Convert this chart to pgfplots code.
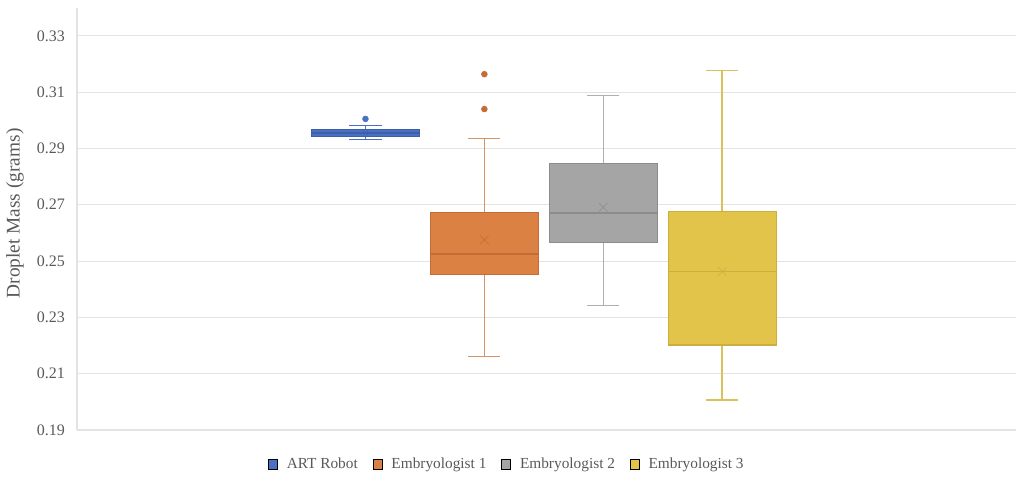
\documentclass[border=0pt]{standalone}
\usepackage{fontspec}
\setmainfont{Liberation Serif}
\usepackage{pgfplots}
\pgfplotsset{compat=1.18}
\usepgfplotslibrary{statistics}
\definecolor{txtgray}{HTML}{595959}
\definecolor{gridgray}{HTML}{E3E3E3}
\definecolor{artfill}{HTML}{4A70C4}
\definecolor{artdark}{HTML}{3D5FA8}
\definecolor{eofill}{HTML}{DB8143}
\definecolor{eodark}{HTML}{C46C35}
\definecolor{eowh}{HTML}{D4946A}
\definecolor{etfill}{HTML}{A5A5A5}
\definecolor{etdark}{HTML}{8C8C8C}
\definecolor{etwh}{HTML}{AFAFAF}
\definecolor{ehfill}{HTML}{E3C44B}
\definecolor{ehdark}{HTML}{CDAE3C}
\definecolor{ehwh}{HTML}{D9C25E}
\begin{document}
\begin{tikzpicture}
\useasboundingbox (-57.75pt,-41.25pt) rectangle (710.25pt,322.5pt);
\begin{axis}[
  at={(0pt,0pt)}, anchor=south west,
  scale only axis, width=704.25pt, height=316.7pt,
  xmin=-1.426, xmax=6.471, ymin=0.19, ymax=0.34,
  xtick=\empty,
  ytick={0.19,0.21,0.23,0.25,0.27,0.29,0.31,0.33},
  yticklabel style={/pgf/number format/fixed, /pgf/number format/fixed zerofill, /pgf/number format/precision=2, /pgf/number format/assume math mode=true,
    font=\fontsize{12}{14}\selectfont, text=txtgray, xshift=-5.5pt},
  major tick length=0pt,
  ymajorgrids, grid style={gridgray, line width=0.8pt},
  separate axis lines,
  axis x line*=bottom, axis y line*=left,
  x axis line style={draw=none},
  y axis line style={gridgray, line width=0.8pt},
  ylabel={Droplet Mass (grams)},
  every axis y label/.style={at={(axis description cs:-0.066,0.513)}, rotate=90, anchor=center, font=\fontsize{14.5}{16}\selectfont, text=txtgray},
  boxplot/draw direction=y,
  boxplot/box extend=0.906,
  boxplot/whisker extend=0.27,
  legend columns=4,
  legend style={at={(0.458,-0.081)}, anchor=center, draw=none, fill=none,
    font=\fontsize{11.5}{13}\selectfont, text=txtgray,
    /tikz/every odd column/.append style={column sep=5pt},
    /tikz/every even column/.append style={column sep=9pt}},
  legend image code/.code={\fill[#1] (0pt,-3.8pt) rectangle (6.8pt,3.8pt);},
]
% ART Robot
\addplot[forget plot, color=artdark, boxplot prepared={draw position=1,
    lower whisker=0.2931, lower quartile=0.2942, median=0.2955,
    upper quartile=0.2966, upper whisker=0.2981, average=0.2955,
    every box/.style={draw=artdark, fill=artfill, line width=0.8pt},
    every whisker/.style={draw=artfill, line width=1.1pt},
    every median/.style={draw=artdark, line width=0.8pt},
    every average/.style={/tikz/mark=x, /tikz/mark size=2.5pt, /tikz/color=artdark, /tikz/mark options={draw=artdark, line width=0.6pt}}},
  mark=*, mark size=2.2pt, mark options={fill=artfill, draw=artfill}]
  coordinates {(0,0.3005)};
% Embryologist 1
\addplot[forget plot, color=eodark, boxplot prepared={draw position=2,
    lower whisker=0.2161, lower quartile=0.2451, median=0.2525,
    upper quartile=0.2671, upper whisker=0.2935, average=0.2575,
    every box/.style={draw=eodark, fill=eofill, line width=0.8pt},
    every whisker/.style={draw=eowh, line width=1.1pt},
    every median/.style={draw=eodark, line width=0.9pt},
    every average/.style={/tikz/mark=x, /tikz/mark size=4.5pt, /tikz/color=eodark, /tikz/mark options={draw=eodark, line width=0.7pt}}},
  mark=*, mark size=2.2pt, mark options={fill=eodark, draw=eodark}]
  coordinates {(0,0.3164) (0,0.3040)};
% Embryologist 2
\addplot[forget plot, color=etdark, boxplot prepared={draw position=3,
    lower whisker=0.2343, lower quartile=0.2566, median=0.2671,
    upper quartile=0.2848, upper whisker=0.3089, average=0.2691,
    every box/.style={draw=etdark, fill=etfill, line width=0.8pt},
    every whisker/.style={draw=etwh, line width=1.1pt},
    every median/.style={draw=etdark, line width=0.9pt},
    every average/.style={/tikz/mark=x, /tikz/mark size=4.5pt, /tikz/color=etdark, /tikz/mark options={draw=etdark, line width=0.7pt}}},
  mark=none]
  coordinates {};
% Embryologist 3
\addplot[forget plot, color=ehdark, boxplot prepared={draw position=4,
    lower whisker=0.2007, lower quartile=0.2202, median=0.2463,
    upper quartile=0.2676, upper whisker=0.3177, average=0.2463,
    every box/.style={draw=ehdark, fill=ehfill, line width=0.8pt},
    every whisker/.style={draw=ehwh, line width=1.1pt},
    every median/.style={draw=ehdark, line width=0.9pt},
    every average/.style={/tikz/mark=x, /tikz/mark size=4.5pt, /tikz/color=ehdark, /tikz/mark options={draw=ehdark, line width=0.7pt}}},
  mark=none]
  coordinates {};
\addlegendimage{fill=artfill}
\addlegendentry{ART Robot}
\addlegendimage{fill=eofill}
\addlegendentry{Embryologist 1}
\addlegendimage{fill=etfill}
\addlegendentry{Embryologist 2}
\addlegendimage{fill=ehfill}
\addlegendentry{Embryologist 3}
\end{axis}
\end{tikzpicture}
\end{document}
